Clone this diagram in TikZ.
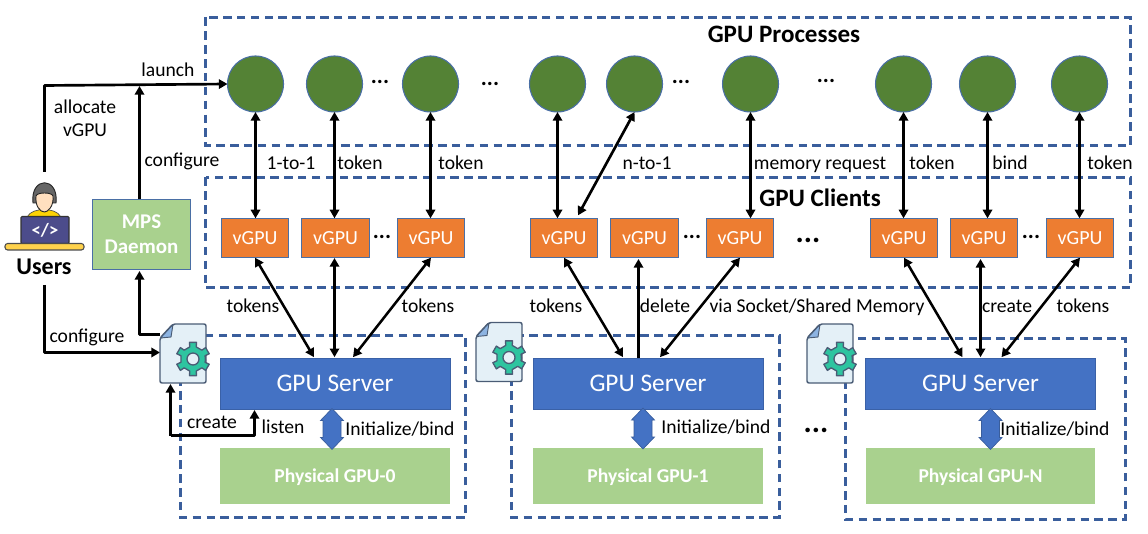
\documentclass[tikz,border=0pt]{standalone}
\usepackage{fontspec}
\setmainfont{Carlito}
\usetikzlibrary{arrows.meta,calc}
\definecolor{dashblue}{HTML}{3A5E9C}
\definecolor{edgeblue}{HTML}{4A6FA5}
\definecolor{procgreen}{HTML}{548235}
\definecolor{lightgreen}{HTML}{A9D18E}
\definecolor{vorange}{HTML}{ED7D31}
\definecolor{servblue}{HTML}{4472C4}
\definecolor{docfill}{HTML}{E4F0F7}
\definecolor{docline}{HTML}{4A5C75}
\definecolor{docfold}{HTML}{8DB4E2}
\definecolor{gearteal}{HTML}{2EC4A0}
\tikzset{
  x=0.75pt,y=-0.75pt,
  group/.style={draw=dashblue,line width=2pt,dash pattern=on 6.4pt off 4pt},
  proc/.style={circle,draw=edgeblue,line width=0.8pt,fill=procgreen,minimum size=42pt,inner sep=0pt,outer sep=0pt},
  vgpu/.style={draw=edgeblue,line width=0.9pt,fill=vorange,text=white,minimum width=50.5pt,minimum height=29.5pt,inner sep=0pt,outer sep=0pt,font=\fontsize{15}{17}\selectfont},
  server/.style={draw=servblue!85!black,line width=0.5pt,fill=servblue,text=white,minimum width=172.5pt,minimum height=38pt,inner sep=0pt,outer sep=0pt,font=\fontsize{19}{22}\selectfont},
  physical/.style={fill=lightgreen,text=white,minimum width=172pt,minimum height=42pt,inner sep=0pt,outer sep=0pt,text depth=0pt,font=\bfseries\fontsize{14.7}{17}\selectfont},
  daemon/.style={draw=edgeblue,line width=0.9pt,fill=lightgreen,text=white,minimum width=73pt,minimum height=53pt,inner sep=0pt,outer sep=0pt,align=center,font=\bfseries\fontsize{15.7}{18.5}\selectfont},
  lbl/.style={inner sep=0pt,outer sep=0pt,text=black,text height=10pt,text depth=3pt,yshift=-0.75pt,font=\fontsize{14.7}{17.3}\selectfont},
  lbltwo/.style={inner sep=0pt,outer sep=0pt,text=black,align=center,font=\fontsize{14.7}{17.5}\selectfont},
  title/.style={inner sep=0pt,outer sep=0pt,text=black,font=\bfseries\fontsize{18.8}{22}\selectfont},
  dots/.style={inner sep=0pt,outer sep=0pt,text=black,font=\bfseries\fontsize{17}{18}\selectfont},
  bigdots/.style={inner sep=0pt,outer sep=0pt,text=black,font=\bfseries\fontsize{23}{24}\selectfont},
  conn/.style={draw=black,line width=2pt,line join=round},
  tip/.style={-{Triangle[length=6.5pt,width=7pt]},conn},
  both/.style={{Triangle[length=6.5pt,width=7pt]}-{Triangle[length=6.5pt,width=7pt]},conn},
  thin tip/.style={-{Triangle[length=6.5pt,width=7pt]},conn,line width=1.9pt},
  thin both/.style={{Triangle[length=6.5pt,width=7pt]}-{Triangle[length=6.5pt,width=7pt]},conn,line width=1.9pt},
  blockarrow/.style={draw=dashblue,line width=0.5pt,fill=servblue,line join=miter},
  anchorbox/.style={inner sep=0pt,outer sep=0pt,minimum width=34.5pt,minimum height=44pt},
}
\newcommand{\docicon}[1]{%
  \begin{scope}[shift={(#1)}]
    \draw[fill=docfill,draw=docline,line width=1.1pt,line join=round,rounded corners=1.5pt]
      (0,14) -- (13,0) -- (46,0) -- (46,59) -- (0,59) -- cycle;
    \draw[fill=docfold,draw=docline,line width=0.7pt,line join=round]
      (0.5,14) -- (13,0.5) -- (11,13) -- cycle;
    \begin{scope}[shift={(33,35)}]
      \draw[fill=gearteal,draw=docline,line width=1pt,line join=round]
        (5:12.5) -- (15:12.5) -- (18:17) -- (42:17) -- (45:12.5) -- (75:12.5) -- (78:17) -- (102:17) -- (105:12.5)
        -- (135:12.5) -- (138:17) -- (162:17) -- (165:12.5) -- (195:12.5) -- (198:17) -- (222:17) -- (225:12.5)
        -- (255:12.5) -- (258:17) -- (282:17) -- (285:12.5) -- (315:12.5) -- (318:17) -- (342:17) -- (345:12.5) -- cycle;
      \draw[fill=docfill,draw=docline,line width=1pt] (0,0) circle (6);
    \end{scope}
  \end{scope}}
\newcommand{\blockshape}[2]{%
  \draw[blockarrow] (#1,#2) -- ++(11.5,12) -- ++(-2.5,0) -- ++(0,17) -- ++(2.5,0) -- ++(-11.5,12)
    -- ++(-11.5,-12) -- ++(2.5,0) -- ++(0,-17) -- ++(-2.5,0) -- cycle;}
\begin{document}
\begin{tikzpicture}
\useasboundingbox (0,0) rectangle (1148,534);
% dashed groups
\draw[group] (205.5,17.5) rectangle (1130.5,145.5);
\draw[group] (205.5,177.5) rectangle (1130.5,287.5);
\draw[group] (180.5,335.5) rectangle (465.5,517.5);
\draw[group] (511.5,335.5) rectangle (779.5,517.5);
\draw[group] (845.5,338.5) rectangle (1125.5,519.5);
% processes
\foreach \n/\x in {p1/255.5,p2/334.5,p3/430.5,p4/557.5,p5/634.5,p6/750.5,p7/903.5,p8/987.5,p9/1079.5}
  \node[proc] (\n) at (\x,84) {};
% vGPUs
\foreach \n/\x in {v1/255,v2/335.5,v3/431,v4/564,v5/644.5,v6/740,v7/904,v8/984,v9/1080}
  \node[vgpu] (\n) at (\x,238) {vGPU};
% servers, physical
\foreach \i/\x in {1/335,2/648,3/980.5}{
  \node[server] (s\i) at (\x,383.5) {GPU Server};
  \node[physical] (g\i) at (\x,476) {Physical GPU-\ifnum\i=1 0\else\ifnum\i=2 1\else N\fi\fi};
}
\blockshape{332}{408.5}
\blockshape{643}{408}
\blockshape{990.5}{408.5}
% daemon
\node[daemon] (m) at (141.5,234.5) {MPS\\Daemon};
% doc anchors
\node[anchorbox] (d1) at (183,353.5) {};
\node[anchorbox] (d2) at (499,352.5) {};
\node[anchorbox] (d3) at (830,353.5) {};
% Users icon
\node[title,font=\bfseries\fontsize{18}{20}\selectfont] (u) at (44,266.5) {Users};
\coordinate (utop) at (44.5,172);
\coordinate (ubot) at (44.5,285);
% connectors
\draw[tip] (utop) -- (44.5,85.5) -- (p1.west);
\draw[tip] (m.north -| 139.5,0) -- (139.5,86);
\draw[tip] (ubot) -- (44.5,352.5) -- (d1.west |- 0,352.5);
\draw[tip] (d1.north west |- 0,334.5) -- (139.5,334.5) -- (139.5,271);
\draw[tip] (170.5,435.5) -- (170.5,384);
\draw[tip] (170.5,435.5) -- (254.5,435.5) -- (254.5,410);
\foreach \p/\v in {p1/v1,p2/v2,p3/v3,p4/v4,p6/v6,p7/v7,p8/v8,p9/v9}
  \draw[both] (\p.south) -- (\p.south |- \v.north);
\draw[both] (p5.south) -- ($(v4.north)+(14,-3)$);
% vGPU to server
\draw[thin both] (v1.south) -- ($(s1.north)+(-21,-1)$);
\draw[thin both] (334.5,258) -- ($(s1.north)+(-0.5,-1)$);
\draw[thin both] (v3.south) -- ($(s1.north)+(18,-1)$);
\draw[thin both] (v4.south) -- ($(s2.north)+(-25,-1)$);
\draw[thin tip] ($(s2.north)+(-9.5,0)$) -- (638.5,259);
\draw[thin both] (v6.south) -- ($(s2.north)+(12,-1)$);
\draw[thin both] (v7.south) -- ($(s3.north)+(-18,-1)$);
\draw[thin both] (980.5,259) -- ($(s3.north)+(0,-1)$);
\draw[thin both] (v9.south) -- ($(s3.north)+(21,-1)$);
% docs
\docicon{160,324}
\docicon{476,322.5}
\docicon{807,324}
% user drawing
\begin{scope}
  \draw[fill=yellow!70!orange,draw=black!70,line width=0.5pt] (27,217) .. controls (30,211) and (38,210) .. (44,209) .. controls (50,210) and (58,211) .. (61,217) -- cycle;
  \draw[fill=black!60,draw=black!85,line width=0.7pt] (33,203) .. controls (30,176) and (59,176) .. (56,203) -- cycle;
  \draw[fill=orange!25,draw=black!85,line width=0.7pt] (36,196) .. controls (37,192) and (52,192) .. (53,196) .. controls (54,206) and (48,212) .. (44.5,212) .. controls (40,212) and (35,206) .. (36,196) -- cycle;
  \draw[fill=blue!35!black!70,draw=black!80,line width=0.8pt,rounded corners=0.8pt] (21,216.5) rectangle (69,243.5);
  \draw[fill=orange!50!yellow!70,draw=black!70,line width=0.8pt,rounded corners=2pt] (5,243.5) rectangle (84,250);
  \node[inner sep=0pt,text=white,font=\bfseries\fontsize{14}{14}\selectfont] (ucode) at (45,230) {</>};
\end{scope}
% labels
\node[title] (t1) at (784,34) {GPU Processes};
\node[title] (t2) at (820,198) {GPU Clients};
\foreach \x/\y/\t in {168/71.3/launch,182/161/configure,291/163.6/1-to-1,360/163.6/token,461/163.6/token,647/163.6/n-to-1,820/163.6/memory request,932/163.6/token,1010/163.6/bind,1110/163.6/token,
  253/307/tokens,428/307/tokens,556/307/tokens,665/307/delete,817/307/via Socket\slash Shared Memory,1007/307/create,1083/307/tokens,
  87/337/configure,212/423/create,283/428/listen,400/429.6/Initialize\slash bind,716/428/Initialize\slash bind,1055/429.6/Initialize\slash bind}
  \node[lbl,anchor=center] at (\x,\y) {\t};
\node[lbltwo] (alloc) at (85,118) {allocate\\vGPU};
% dots
\foreach \x/\y in {380/82,490/84,681/82,826/81,382/237,692/237,1031/237}
  \node[dots] at (\x,\y) {...};
\foreach \x/\y in {808/240,816/430}
  \node[bigdots] at (\x,\y) {...};
\end{tikzpicture}
\end{document}
